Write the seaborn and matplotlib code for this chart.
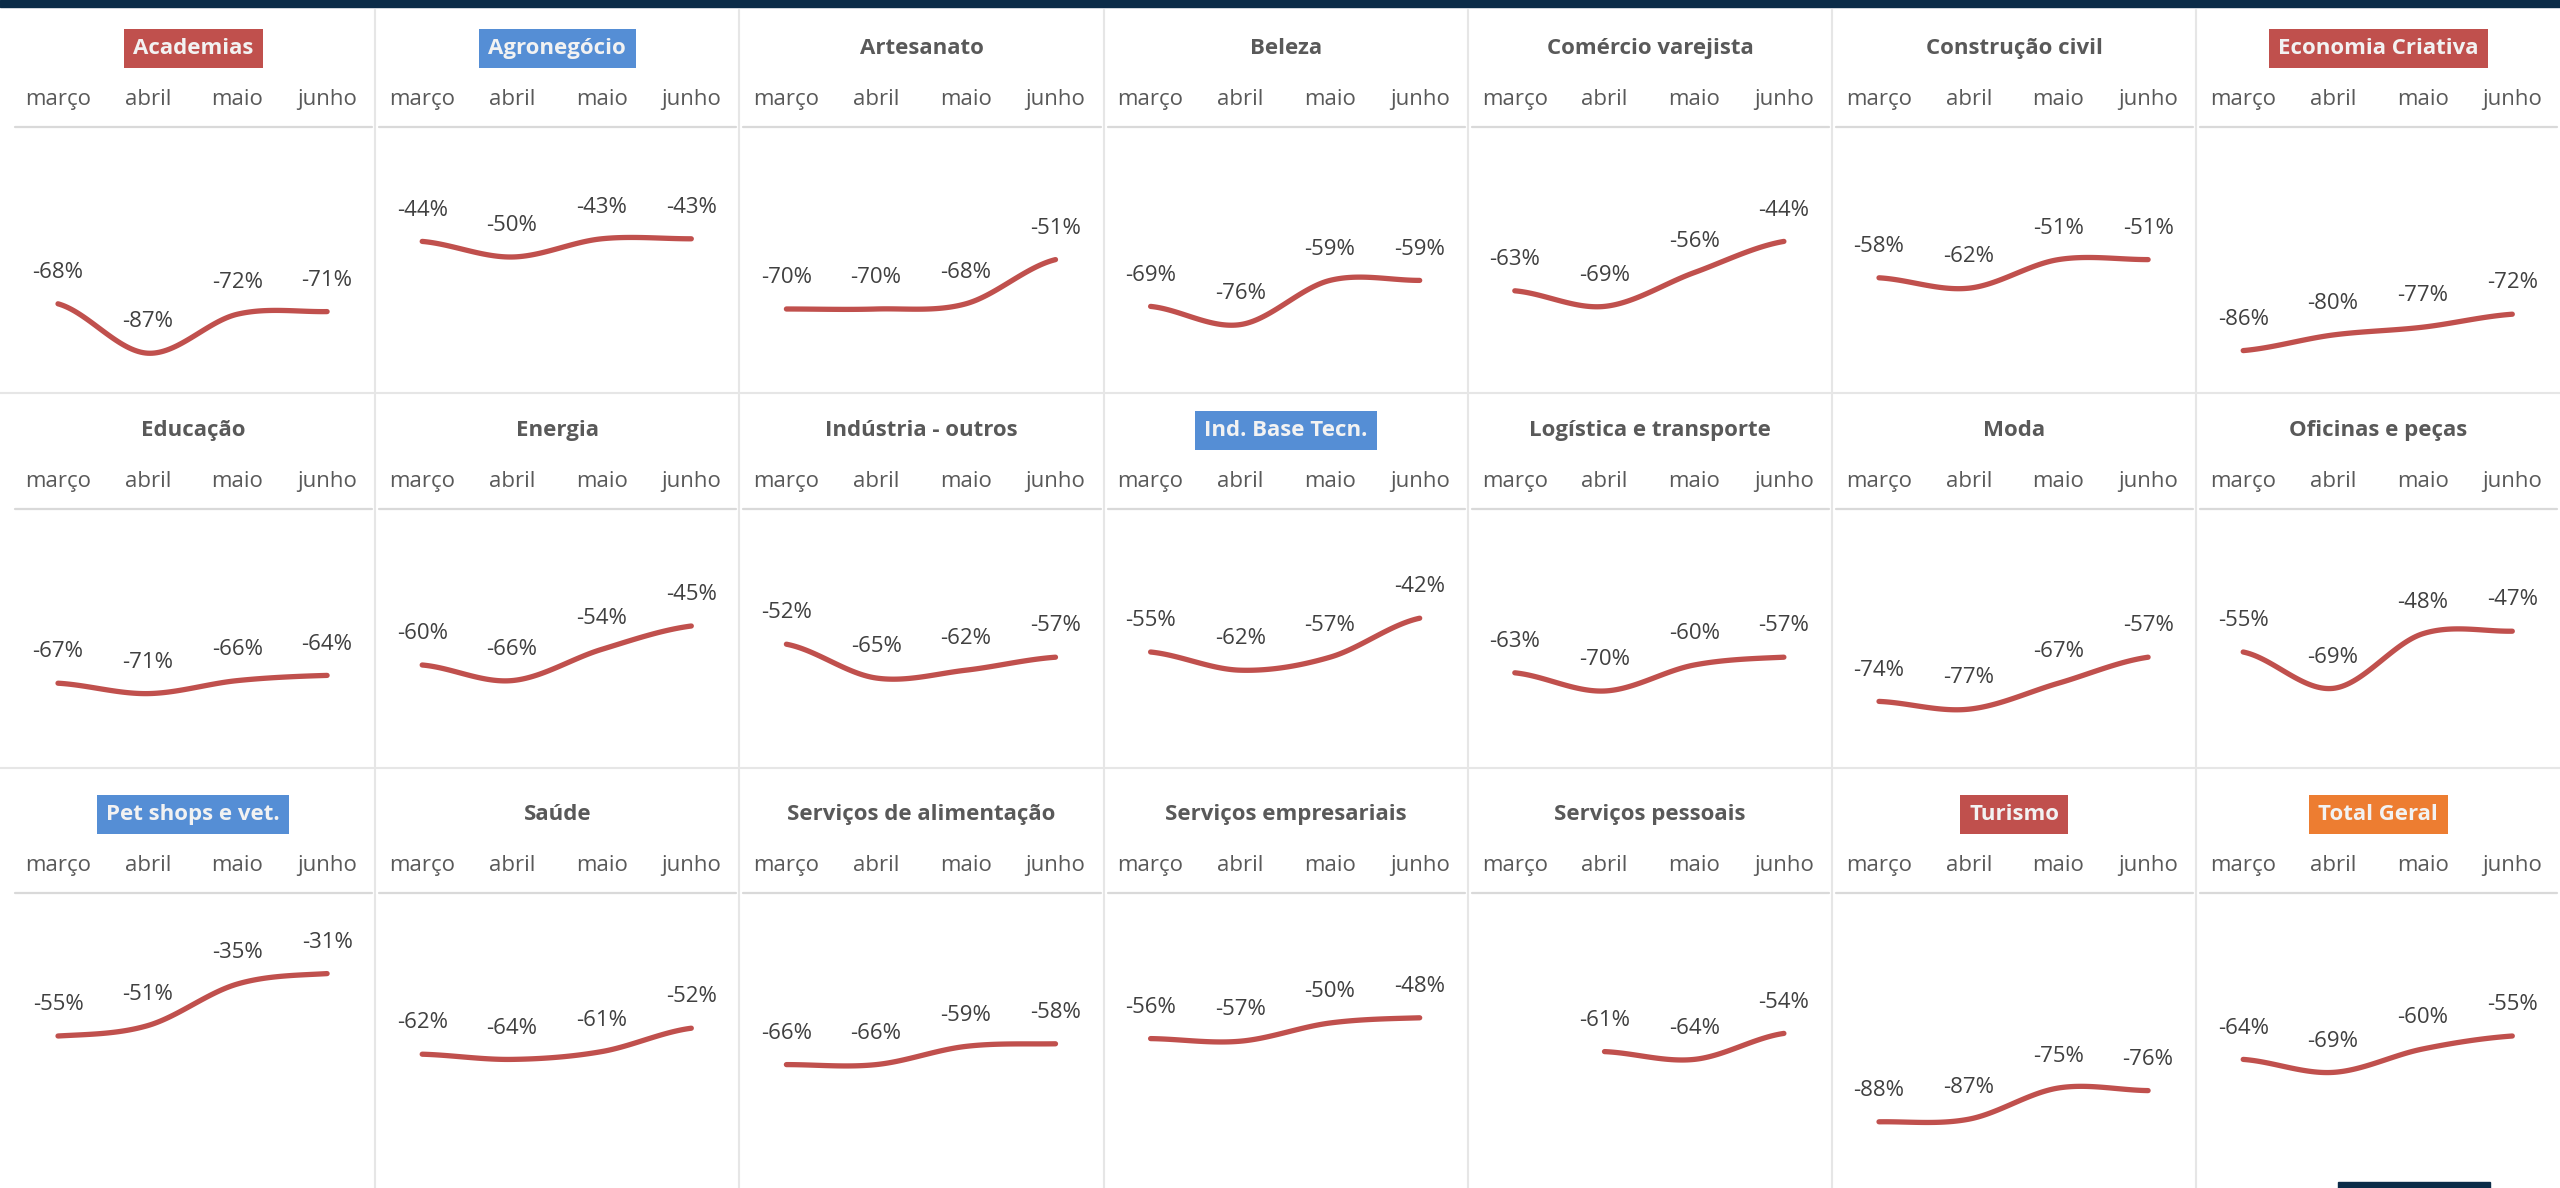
import numpy as np
import pandas as pd
import matplotlib
matplotlib.use("Agg")
import matplotlib.pyplot as plt
import seaborn as sns
from matplotlib.lines import Line2D
from matplotlib.patches import Rectangle

months = ["março", "abril", "maio", "junho"]

sectors = [
    "Academias", "Agronegócio", "Artesanato", "Beleza", "Comércio varejista",
    "Construção civil", "Economia Criativa",
    "Educação", "Energia", "Indústria - outros", "Ind. Base Tecn.",
    "Logística e transporte", "Moda", "Oficinas e peças",
    "Pet shops e vet.", "Saúde", "Serviços de alimentação", "Serviços empresariais",
    "Serviços pessoais", "Turismo", "Total Geral",
]

mar = [-68, -44, -70, -69, -63, -58, -86,
       -67, -60, -52, -55, -63, -74, -55,
       -55, -62, -66, -56, np.nan, -88, -64]
abr = [-87, -50, -70, -76, -69, -62, -80,
       -71, -66, -65, -62, -70, -77, -69,
       -51, -64, -66, -57, -61, -87, -69]
mai = [-72, -43, -68, -59, -56, -51, -77,
       -66, -54, -62, -57, -60, -67, -48,
       -35, -61, -59, -50, -64, -75, -60]
jun = [-71, -43, -51, -59, -44, -51, -72,
       -64, -45, -57, -42, -57, -57, -47,
       -31, -52, -58, -48, -54, -76, -55]

highlight = {
    "Academias": "#C0504D",
    "Agronegócio": "#558ED5",
    "Economia Criativa": "#C0504D",
    "Ind. Base Tecn.": "#558ED5",
    "Pet shops e vet.": "#558ED5",
    "Turismo": "#C0504D",
    "Total Geral": "#ED7D31",
}

LINE = "#C0504D"
GRID = "#E6E6E6"
W, H = 2560, 1188

sns.set_theme(style="white")
plt.rcParams["font.family"] = ["Open Sans", "DejaVu Sans"]


def smooth(xs, ys, n=40):
    # catmull-rom style smoothing like the excel "smoothed line" option
    xs = np.asarray(xs, float)
    ys = np.asarray(ys, float)
    k = len(ys)
    m = np.zeros(k)
    for i in range(k):
        if i == 0:
            m[i] = (ys[1] - ys[0]) / 2
        elif i == k - 1:
            m[i] = (ys[-1] - ys[-2]) / 2
        else:
            m[i] = (ys[i + 1] - ys[i - 1]) / 2
    out_x, out_y = [], []
    for i in range(k - 1):
        t = np.linspace(0, 1, n)
        h00 = 2 * t**3 - 3 * t**2 + 1
        h10 = t**3 - 2 * t**2 + t
        h01 = -2 * t**3 + 3 * t**2
        h11 = t**3 - t**2
        out_x.append(xs[i] + t * (xs[i + 1] - xs[i]))
        out_y.append(h00 * ys[i] + h10 * m[i] + h01 * ys[i + 1] + h11 * m[i + 1])
    return np.concatenate(out_x), np.concatenate(out_y)


fig = plt.figure(figsize=(W / 100, H / 100), dpi=100)
fig.patch.set_facecolor("white")

col_w = 364.2
col_x0 = 11
sep_y = [127, 509, 893]
row_lines = [393, 768]
px_per_pct = 2.6

# top dark band
fig.add_artist(Rectangle((0, 1 - 7 / H), 1, 7 / H, transform=fig.transFigure,
                         color="#0B2C48", zorder=5))
# small dark tab bottom right
fig.add_artist(Rectangle((2338 / W, 0), 152 / W, 6 / H, transform=fig.transFigure,
                         color="#0B2C48", zorder=5))

# cell grid
for k in range(1, 7):
    x = (col_x0 + col_w * k) / W
    fig.add_artist(Line2D([x, x], [0, 1 - 10 / H], transform=fig.transFigure,
                          color=GRID, lw=1.5))
for y in row_lines:
    fig.add_artist(Line2D([0, 1], [1 - y / H, 1 - y / H], transform=fig.transFigure,
                          color=GRID, lw=1.5))

for idx, name in enumerate(sectors):
    r, c = divmod(idx, 7)
    left = (col_x0 + col_w * c) / W
    top = sep_y[r]
    ax = fig.add_axes([left, 1 - (top + 100 * px_per_pct) / H, col_w / W,
                       100 * px_per_pct / H])
    ax.set_facecolor("none")

    vals = np.array([mar[idx], abr[idx], mai[idx], jun[idx]], float)
    xs = np.arange(4)
    ok = ~np.isnan(vals)
    sx, sy = smooth(xs[ok], vals[ok])
    df = pd.DataFrame({"x": sx, "y": sy})
    sns.lineplot(data=df, x="x", y="y", ax=ax, color=LINE, lw=3.8,
                 sort=False, errorbar=None, solid_capstyle="round")

    for x, v in zip(xs[ok], vals[ok]):
        ax.annotate(f"{v:.0f}%", (x, v), xytext=(0, 22.5), textcoords="offset points",
                    ha="center", va="center", fontsize=16, color="#404040")

    ax.set_xlim(-47 / 89.7, (col_w - 47) / 89.7)
    ax.set_ylim(-100, 0)
    ax.xaxis.tick_top()
    ax.set_xticks(xs)
    ax.set_xticklabels(months)
    ax.tick_params(axis="x", length=0, pad=12, labelsize=16, labelcolor="#595959")
    ax.set_yticks([])
    ax.set_xlabel("")
    ax.set_ylabel("")
    for s in ax.spines.values():
        s.set_visible(False)

    # thin rule under the month names
    ax.plot([4 / col_w, (col_w - 3) / col_w], [1, 1], transform=ax.transAxes,
            color="#D9D9D9", lw=1.6, clip_on=False)

    if name in highlight:
        ax.annotate(name, xy=(0.5, 1), xycoords="axes fraction", xytext=(0, 56.5),
                    textcoords="offset points", ha="center", va="center",
                    fontsize=16, fontweight="bold", color="#F2F2F2",
                    bbox=dict(boxstyle="square,pad=0.42", fc=highlight[name], ec="none"))
    else:
        ax.annotate(name, xy=(0.5, 1), xycoords="axes fraction", xytext=(0, 56.5),
                    textcoords="offset points", ha="center", va="center",
                    fontsize=16, fontweight="bold", color="#595959")

fig.savefig("out.png", dpi=100)
